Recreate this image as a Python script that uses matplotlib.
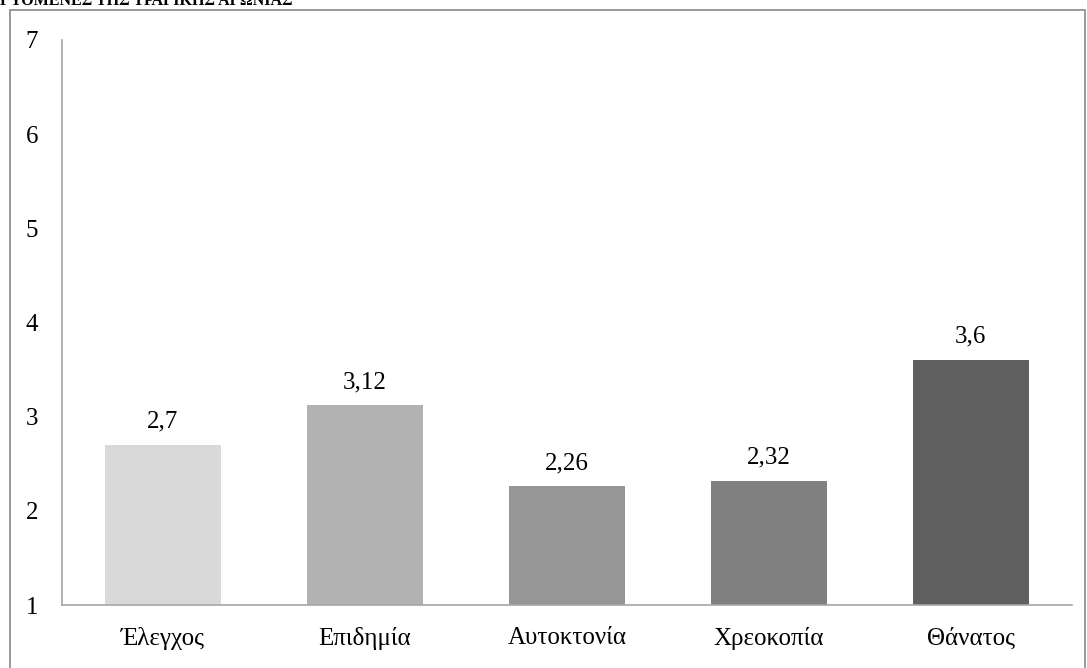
import matplotlib.pyplot as plt
from matplotlib.patches import Rectangle

plt.rcParams['font.family'] = ['Liberation Serif', 'DejaVu Serif']

categories = ['Έλεγχος', 'Επιδημία', 'Αυτοκτονία', 'Χρεοκοπία', 'Θάνατος']
values = [2.7, 3.12, 2.26, 2.32, 3.6]
value_labels = ['2,7', '3,12', '2,26', '2,32', '3,6']
colors = ['#d9d9d9', '#b2b2b2', '#969696', '#808080', '#5f5f5f']
yticks = [1, 2, 3, 4, 5, 6, 7]

fig = plt.figure(figsize=(10.87, 6.68), dpi=100)
ax = fig.add_axes([0.057, 0.0943, 0.929, 0.846])

x = range(len(categories))
ax.bar(x, [v - 1 for v in values], bottom=1, width=0.575, color=colors)
for i, v in enumerate(values):
    ax.text(i, v + 0.13, value_labels[i], ha='center', va='bottom', fontsize=18)

ax.set_xlim(-0.5, 4.5)
ax.set_ylim(1, 7)
ax.set_yticks(yticks)
ax.set_xticks(list(x))
ax.set_xticklabels(categories)
ax.tick_params(axis='both', length=0, labelsize=18)
ax.tick_params(axis='y', pad=17)
ax.tick_params(axis='x', pad=16)
for s in ['top', 'right']:
    ax.spines[s].set_visible(False)
for s in ['left', 'bottom']:
    ax.spines[s].set_color('#a6a6a6')
    ax.spines[s].set_linewidth(1.2)

# outer chart border
fig.patches.append(Rectangle((10 / 1087, -0.1), 1075 / 1087, 1.1 - 10 / 668,
                             transform=fig.transFigure, fill=False,
                             edgecolor='#888888', linewidth=1.2))
# title, cut off at the top edge as in the source
fig.text(0.0, 1.0 + 0.011, 'ΓΥΟΜΕΝΕΣ ΤΗΣ ΤΡΑΓΙΚΗΣ ΑΓΩΝΙΑΣ', ha='left', va='top',
         fontsize=11.5, fontweight='bold')

fig.savefig('out.png', dpi=100)
